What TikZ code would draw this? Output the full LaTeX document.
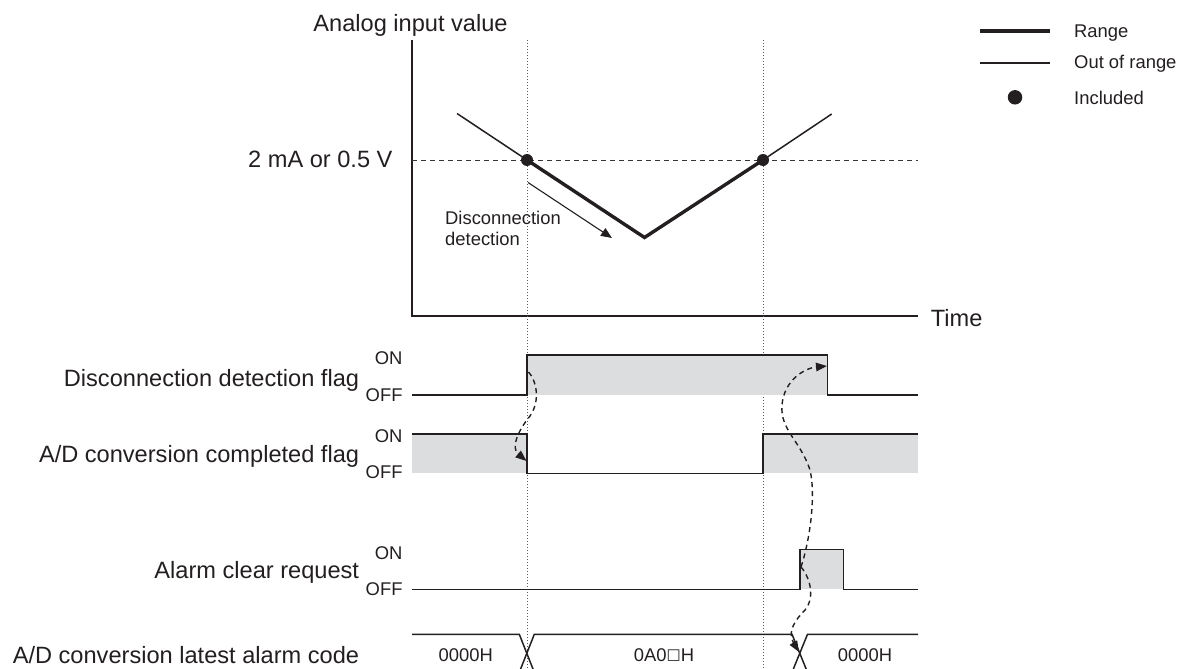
\documentclass[tikz,border=0pt]{standalone}
\usepackage{fontspec}
\setmainfont{Liberation Sans}
\newfontfamily\dejavu{DejaVu Sans}
\usetikzlibrary{arrows.meta}
\definecolor{ink}{RGB}{35,31,32}
\definecolor{gfill}{RGB}{220,221,223}
\definecolor{dotc}{RGB}{90,90,90}
\tikzset{
  big/.style={font=\fontsize{23.6}{28}\selectfont, text=ink, inner sep=0pt},
  small/.style={font=\fontsize{18.4}{21.6}\selectfont, text=ink, inner sep=0pt},
  sig/.style={draw=ink, line width=1.5pt},
  guide/.style={draw=dotc, line width=1pt, dash pattern=on 1.4pt off 1.6pt},
  level/.style={draw=ink!90, line width=1pt, dash pattern=on 5pt off 4pt},
  flow/.style={draw=ink, line width=1.4pt, dash pattern=on 5pt off 4pt, -{Triangle[length=11pt,width=8.5pt]}},
  rng/.style={draw=ink, line width=3.4pt},
  oor/.style={draw=ink, line width=1.5pt},
  hit/.style={circle, fill=ink, inner sep=0pt},
  shade/.style={fill=gfill, draw=none}
}
\begin{document}
\begin{tikzpicture}[x=1pt,y=-1pt]
\useasboundingbox (0,0) rectangle (1181,669);
\clip (0,0) rectangle (1181,669);

% ---- analog chart ----
\coordinate (ytop) at (412,40);
\coordinate (org) at (412,316);
\coordinate (xend) at (918,316);
\draw[sig] (ytop) -- (org) -- (xend);
\node[big, anchor=base] (ylab) at (410.5,31.7) {Analog input value};
\node[big, anchor=base west] (tlab) at (930.7,326.7) {Time};
\node[big, anchor=base east] (lvl) at (392.7,167.3) {2 mA or 0.5 V};

% guide lines
\coordinate (g1t) at (527,40);  \coordinate (g1b) at (527,669);
\coordinate (g2t) at (763,40);  \coordinate (g2b) at (763,669);
\draw[guide] (g1t) -- (g1b);
\draw[guide] (g2t) -- (g2b);
\coordinate (lvlL) at (412,160); \coordinate (lvlR) at (918,160);
\draw[level] (lvlL) -- (lvlR);

% V curve
\coordinate (v0) at (457,113.5);
\coordinate (p1) at (527,160);
\coordinate (vb) at (644.5,237.5);
\coordinate (p2) at (763,160);
\coordinate (v3) at (831.7,114);
\draw[oor] (v0) -- (p1);
\draw[oor] (p2) -- (v3);
\draw[rng, line join=miter] (p1) -- (vb) -- (p2);
\node[hit, minimum size=12pt] (d1) at (p1) {};
\node[hit, minimum size=12pt] (d2) at (p2) {};

% disconnection detection arrow
\coordinate (da0) at (528,182.5);
\coordinate (da1) at (612,238);
\draw[draw=ink, line width=1.1pt, -{Triangle[length=11pt,width=9pt]}] (da0) -- (da1);
\node[small, anchor=base west] (dt1) at (445,224.3) {Disconnection};
\node[small, anchor=base west] (dt2) at (445,245.7) {detection};

% ---- legend ----
\coordinate (lr0) at (980,31); \coordinate (lr1) at (1050,31);
\draw[rng, line width=3.8pt] (lr0) -- (lr1);
\coordinate (lo0) at (980,62.7); \coordinate (lo1) at (1050,62.7);
\draw[oor, line width=1.7pt] (lo0) -- (lo1);
\node[hit, minimum size=14.5pt] (ldot) at (1015,97.3) {};
\node[small, anchor=base west] (lgr) at (1074,37.3) {Range};
\node[small, anchor=base west] (lgo) at (1074,69) {Out of range};
\node[small, anchor=base west] (lgi) at (1074,104) {Included};

% ---- signal labels ----
\node[big, anchor=base east] (s1) at (359.3,386) {Disconnection detection flag};
\node[small, anchor=base east] (s1on) at (402.7,364.3) {ON};
\node[small, anchor=base east] (s1off) at (402.7,401) {OFF};
\node[big, anchor=base east] (s2) at (359.3,462.3) {A/D conversion completed flag};
\node[small, anchor=base east] (s2on) at (402.7,442.3) {ON};
\node[small, anchor=base east] (s2off) at (402.7,478.3) {OFF};
\node[big, anchor=base east] (s3) at (359.3,578.3) {Alarm clear request};
\node[small, anchor=base east] (s3on) at (402.7,559.3) {ON};
\node[small, anchor=base east] (s3off) at (402.7,595.3) {OFF};
\node[big, anchor=base east] (s4) at (359.3,663.5) {A/D conversion latest alarm code};

% ---- shaded areas ----
\fill[shade] (527,355) rectangle (827.7,395);
\fill[shade] (412,434) rectangle (527,473.3);
\fill[shade] (763,434) rectangle (918,473.3);
\fill[shade] (800,549.3) rectangle (843.7,589.3);

% ---- waveforms ----
\draw[sig] (412,395) -- (527,395) -- (527,355) -- (827.7,355) -- (827.7,395) -- (918,395);
\draw[sig] (412,434) -- (527,434) -- (527,473.3) -- (763,473.3) -- (763,434) -- (918,434);
\draw[sig] (412,589.3) -- (800,589.3) -- (800,549.3) -- (843.7,549.3) -- (843.7,589.3) -- (918,589.3);
% alarm code bus
\draw[sig] (412,634.3) -- (519.3,634.3) -- (534.3,672.3);
\draw[sig] (519.3,672.3) -- (534.3,634.3) -- (792,634.3) -- (807.5,672.3);
\draw[sig] (792,672.3) -- (807.5,634.3) -- (918,634.3);
\node[small, anchor=base] (c1) at (465.7,661) {0000H};
\node[small, anchor=base] (c2) at (664,661) {0A0{\dejavu\fontsize{15}{18}\selectfont\raisebox{1.5pt}{□}}H};
\node[small, anchor=base] (c3) at (865,661) {0000H};

% ---- cause/effect arrows ----
\coordinate (a1s) at (528.5,372);
\coordinate (a1e) at (526.5,461);
\draw[flow] (a1s) .. controls (536,380) and (541,400) .. (530,416)
               .. controls (517,432) and (511,448) .. (a1e);
\coordinate (acr) at (801,567);
\coordinate (a2e) at (827,366);
\draw[flow] (acr) .. controls (810,540) and (816,495) .. (810,470)
               .. controls (800,440) and (780,430) .. (782,405)
               .. controls (784,380) and (805,368) .. (a2e);
\coordinate (a3e) at (799,652);
\draw[flow] (acr) .. controls (812,580) and (814,600) .. (805,610)
               .. controls (795,620) and (787,632) .. (a3e);
\end{tikzpicture}
\end{document}
